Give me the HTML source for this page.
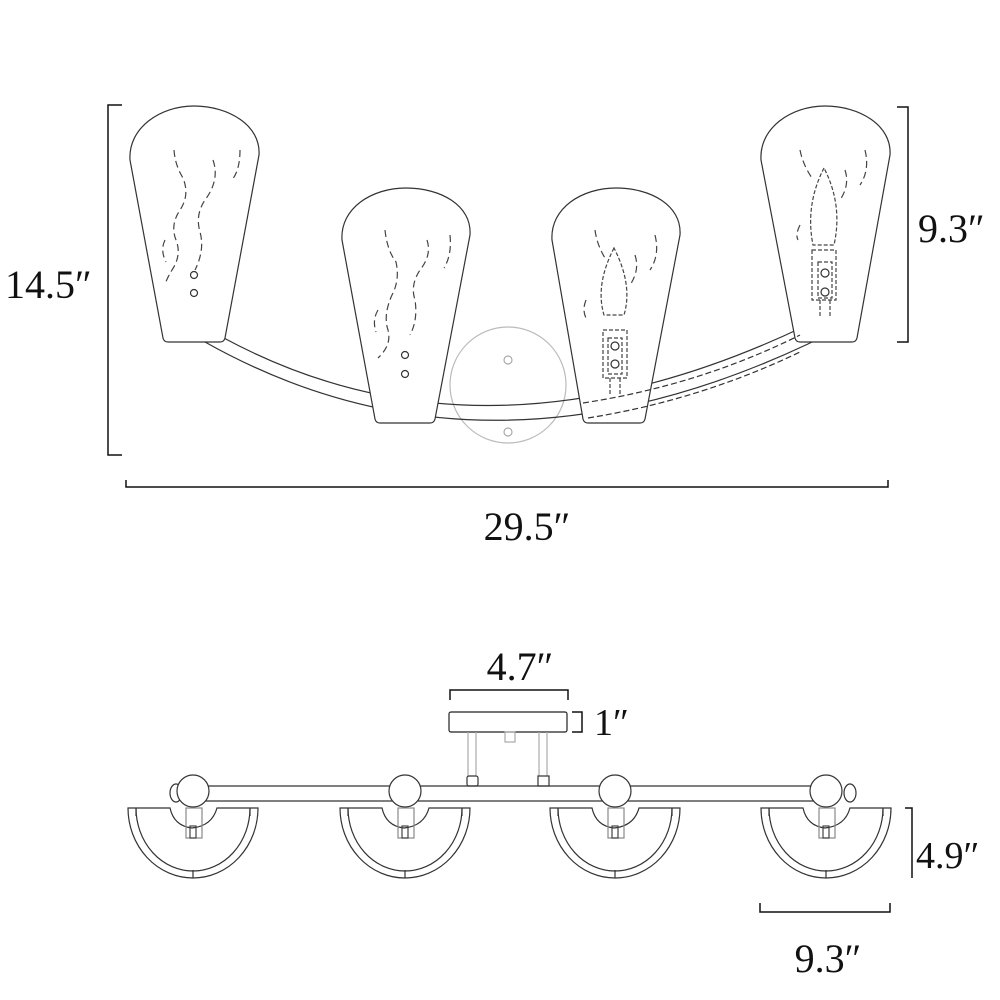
<!DOCTYPE html>
<html><head><meta charset="utf-8"><style>
html,body{margin:0;padding:0;background:#fff;}
svg{display:block}
text{font-family:"Liberation Serif",serif;fill:#111}
</style></head><body>
<svg width="1000" height="1000" viewBox="0 0 1000 1000" xmlns="http://www.w3.org/2000/svg">
<g fill="none" stroke="#333" stroke-width="1.2">
<path d="M122,105 H108 V455 H122" stroke="#111" stroke-width="1.5"/>
<path d="M897,107 H908 V342 H897" stroke="#111" stroke-width="1.5"/>
<path d="M126,480 V487 H888 V480" stroke="#111" stroke-width="1.5"/>
<circle cx="508" cy="385" r="58" stroke="#bbb"/>
<circle cx="508" cy="360" r="4" stroke="#aaa"/>
<circle cx="508" cy="432" r="4" stroke="#aaa"/>
<path d="M222,337 Q500,488 845,306" />
<path d="M205,342 Q500,508 852,322" />
<path d="M845,306 L852,322" />
<g fill="#fff">
<path d="M130,160 C128,128 160,106 194,106 C228,106 261,125 259,155 L225,338 Q224,342 220,342 L168,342 Q164,342 163,338 Z"/>
<path d="M342,240 C340,208 372,188 406,188 C440,188 472,205 470,235 L435,419 Q434,423 430,423 L380,423 Q376,423 375,419 Z"/>
<path d="M552,240 C550,208 582,188 616,188 C650,188 682,205 680,235 L645,419 Q644,423 640,423 L588,423 Q584,423 583,419 Z"/>
<path d="M761,160 C759,128 791,106 825,106 C859,106 892,125 890,155 L857,338 Q856,342 852,342 L800,342 Q796,342 795,338 Z"/>
</g>
<path d="M583,403 Q700,385 800,335" stroke-dasharray="6,3"/>
<path d="M588,418 Q700,400 800,352" stroke-dasharray="6,3"/>
<g stroke-dasharray="7,4" stroke="#444">
<path d="M174,150 Q175,165 183,178 Q190,195 180,210 Q170,225 176,240 Q182,255 172,270 Q166,280 165,285"/>
<path d="M213,160 Q220,180 205,200 Q195,215 200,232 Q205,250 195,270"/>
<path d="M240,150 Q240,170 232,180"/>
<path d="M165,240 Q160,250 166,262"/>
<path d="M385,230 Q387,250 396,262 Q400,280 392,295 Q383,315 388,330 Q392,345 378,358"/>
<path d="M427,240 Q432,255 420,270 Q410,285 415,300 Q418,320 410,335"/>
<path d="M450,235 Q452,255 444,268"/>
<path d="M378,310 Q372,320 376,332"/>
<path d="M800,150 Q803,165 812,178"/>
<path d="M865,150 Q870,170 860,185"/>
<path d="M845,170 Q850,185 840,200"/>
<path d="M800,225 Q795,235 798,240"/>
<path d="M595,230 Q597,245 605,258"/>
<path d="M655,235 Q660,255 650,270"/>
<path d="M635,255 Q640,270 630,285"/>
<path d="M586,300 Q582,310 586,318"/>
</g>
<circle cx="194" cy="275" r="3.5"/><circle cx="194" cy="293" r="3.5"/>
<circle cx="405" cy="355" r="3.5"/><circle cx="405" cy="374" r="3.5"/>
<g stroke-dasharray="4,2" stroke="#444">
<path d="M614,248 Q595,285 604,315 L624,315 Q633,285 614,248 Z"/>
<rect x="603" y="330" width="24" height="48"/>
<rect x="608" y="338" width="14" height="36"/>
<path d="M610,378 V395 M620,378 V395"/>
<path d="M824,168 Q805,205 813,245 L834,245 Q843,205 824,168 Z"/>
<rect x="812" y="250" width="24" height="50"/>
<rect x="818" y="262" width="14" height="36"/>
<path d="M820,300 V318 M830,300 V318"/>
</g>
<circle cx="615" cy="346" r="4"/><circle cx="615" cy="364" r="4"/>
<circle cx="825" cy="273" r="4"/><circle cx="825" cy="292" r="4"/>

<path d="M450,700 V690 H568 V700" stroke="#111" stroke-width="1.5"/>
<path d="M572,712 H582 V732 H572" stroke="#111" stroke-width="1.5"/>
<path d="M905,808 H912 V878" stroke="#111" stroke-width="1.5"/>
<path d="M760,903 V912 H890 V903" stroke="#111" stroke-width="1.5"/>
<rect x="449" y="712" width="118" height="20" rx="2" stroke="#222"/>
<rect x="505" y="732" width="10" height="10" stroke="#aaa"/>
<path d="M468,732 V776 M476,732 V776 M539,732 V776 M547,732 V776" stroke="#aaa"/>
<rect x="467" y="776" width="11" height="10" rx="2"/>
<rect x="538" y="776" width="11" height="10"/>
<path d="M200,786 H830 M200,801 H830"/>
<ellipse cx="176" cy="793" rx="6" ry="9"/>
<ellipse cx="850" cy="793" rx="6" ry="9"/>
<g fill="#fff">
<circle cx="193" cy="791" r="16"/><circle cx="405" cy="791" r="16"/>
<circle cx="615" cy="791" r="16"/><circle cx="826" cy="791" r="16"/>
</g>
<g id="b1">
<path d="M128,808 H170 Q174,826 192,828 Q212,826 217,808 H258 A65,70 0 0 1 128,808 Z" fill="#fff"/>
<path d="M136,808 A57,63 0 0 0 250,808"/>
<path d="M136,808 V816 M250,808 V816 M193,870 V878"/>
<rect x="186" y="808" width="16" height="30" stroke="#888"/>
<rect x="190" y="826" width="6" height="12" stroke="#444"/>
</g>
<use href="#b1" x="212"/>
<use href="#b1" x="422"/>
<use href="#b1" x="633"/>
</g>
<text x="5" y="298" font-size="40">14.5″</text>
<text x="918" y="242" font-size="40">9.3″</text>
<text x="527" y="540" font-size="40" text-anchor="middle">29.5″</text>
<text x="520" y="680" font-size="40" text-anchor="middle">4.7″</text>
<text x="594" y="735" font-size="38">1″</text>
<text x="916" y="868" font-size="38">4.9″</text>
<text x="828" y="972" font-size="40" text-anchor="middle">9.3″</text>
</svg>
</body></html>
